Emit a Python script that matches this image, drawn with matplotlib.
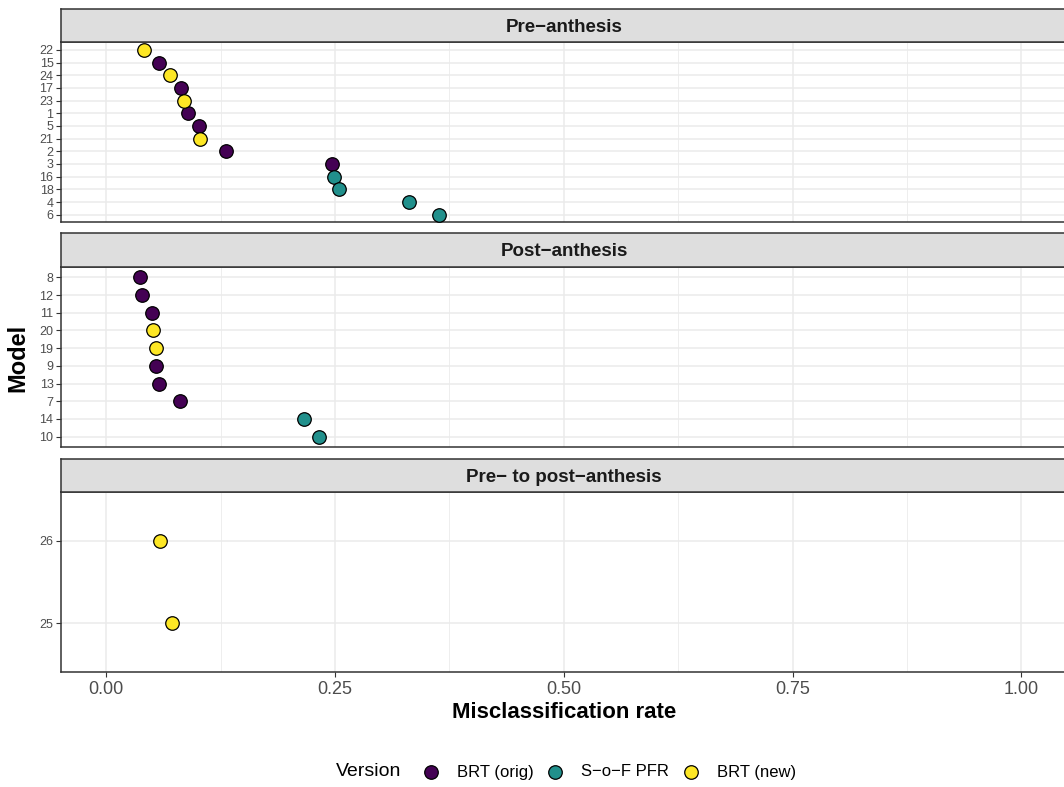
import numpy as np
import matplotlib
matplotlib.use('Agg')
import matplotlib.pyplot as plt

plt.rcParams['font.family'] = ['Liberation Sans', 'DejaVu Sans']

# Datos (de arriba a abajo en cada panel)
pre_models = ['22', '15', '24', '17', '23', '1', '5', '21', '2', '3', '16', '18', '4', '6']
pre_rate = [0.0415, 0.0572, 0.0692, 0.0820, 0.0849, 0.0896, 0.1009, 0.1027,
            0.1308, 0.2467, 0.2489, 0.2547, 0.3308, 0.3632]
pre_version = ['BRT (new)', 'BRT (orig)', 'BRT (new)', 'BRT (orig)', 'BRT (new)',
               'BRT (orig)', 'BRT (orig)', 'BRT (new)', 'BRT (orig)', 'BRT (orig)',
               'S−o−F PFR', 'S−o−F PFR', 'S−o−F PFR', 'S−o−F PFR']

post_models = ['8', '12', '11', '20', '19', '9', '13', '7', '14', '10']
post_rate = [0.0364, 0.0386, 0.0499, 0.0510, 0.0539, 0.0539, 0.0576, 0.0801, 0.2164, 0.2320]
post_version = ['BRT (orig)', 'BRT (orig)', 'BRT (orig)', 'BRT (new)', 'BRT (new)',
                'BRT (orig)', 'BRT (orig)', 'BRT (orig)', 'S−o−F PFR', 'S−o−F PFR']

prepost_models = ['26', '25']
prepost_rate = [0.0590, 0.0721]
prepost_version = ['BRT (new)', 'BRT (new)']

facet_titles = ['Pre−anthesis', 'Post−anthesis', 'Pre− to post−anthesis']
versions = ['BRT (orig)', 'S−o−F PFR', 'BRT (new)']
version_colors = {'BRT (orig)': '#440154', 'S−o−F PFR': '#21908C', 'BRT (new)': '#FDE725'}

x_ticks = [0.0, 0.25, 0.5, 0.75, 1.0]
x_tick_labels = ['0.00', '0.25', '0.50', '0.75', '1.00']

paneles = [
    (pre_models, pre_rate, pre_version),
    (post_models, post_rate, post_version),
    (prepost_models, prepost_rate, prepost_version),
]

# Geometría en píxeles (figura de 1064x787)
W, H = 1064, 787
left_px, right_px = 60.5, 1067
strips_px = [(9, 42.3), (233.3, 266.7), (459, 491.7)]
plots_px = [(42.3, 222.3), (266.7, 447.3), (491.7, 672.3)]

border_col = '#333333'
grid_col = '#EBEBEB'

fig = plt.figure(figsize=(W / 100, H / 100), dpi=100)

handles = {}
for i, ((models, rate, version), title) in enumerate(zip(paneles, facet_titles)):
    top, bottom = plots_px[i]
    ax = fig.add_axes([left_px / W, 1 - bottom / H, (right_px - left_px) / W, (bottom - top) / H])
    n = len(models)
    y = np.arange(n)
    for v in versions:
        idx = [k for k in range(n) if version[k] == v]
        if not idx:
            continue
        sc = ax.scatter([rate[k] for k in idx], [y[k] for k in idx], s=95,
                        c=version_colors[v], edgecolors='black', linewidths=0.9,
                        zorder=3, label=v)
        handles[v] = sc
    ax.set_xlim(-0.05, 1.05)
    ax.set_ylim(n - 0.4, -0.6)
    ax.set_yticks(y)
    ax.set_yticklabels(models)
    ax.set_xticks(x_ticks)
    ax.set_xticks([0.125, 0.375, 0.625, 0.875], minor=True)
    ax.grid(True, which='major', color=grid_col, linewidth=1.1, zorder=0)
    ax.grid(True, which='minor', axis='x', color=grid_col, linewidth=0.6, zorder=0)
    ax.set_axisbelow(True)
    for s in ax.spines.values():
        s.set_color(border_col)
        s.set_linewidth(1.1)
    ax.tick_params(axis='y', length=3.5, width=0.8, color=border_col,
                   labelcolor='#4D4D4D', labelsize=9, pad=1.5)
    ax.tick_params(axis='x', which='minor', length=0)
    if i < 2:
        ax.tick_params(axis='x', which='major', length=0, labelbottom=False)
    else:
        ax.set_xticklabels(x_tick_labels)
        ax.tick_params(axis='x', which='major', length=3.5, width=0.8, color=border_col,
                       labelcolor='#4D4D4D', labelsize=13, pad=3)
        ax.set_xlabel('Misclassification rate', fontsize=16, fontweight='bold', labelpad=3)

    # Franja del título del panel
    st, sb = strips_px[i]
    sax = fig.add_axes([left_px / W, 1 - sb / H, (right_px - left_px) / W, (sb - st) / H])
    sax.set_facecolor('#DEDEDE')
    sax.set_xticks([])
    sax.set_yticks([])
    for s in sax.spines.values():
        s.set_color(border_col)
        s.set_linewidth(1.1)
    sax.text((564 - left_px) / (right_px - left_px), 0.5, title, transform=sax.transAxes,
             ha='center', va='center_baseline', fontsize=13.5, fontweight='bold', color='#1A1A1A')

fig.text(18 / W, 1 - 358 / H, 'Model', rotation=90, ha='center', va='center',
         fontsize=17, fontweight='bold')

# Leyenda
fig.text(336 / W, 1 - 772 / H, 'Version', ha='left', va='center', fontsize=14)
fig.legend([handles[v] for v in versions], versions, ncol=3, frameon=False,
           loc='center left', bbox_to_anchor=(422.7 / W, 1 - 772 / H),
           borderpad=0, borderaxespad=0, handlelength=1.0, handletextpad=1.06,
           columnspacing=0.8, fontsize=12, markerscale=1.0)

fig.savefig('out.png', dpi=100)
